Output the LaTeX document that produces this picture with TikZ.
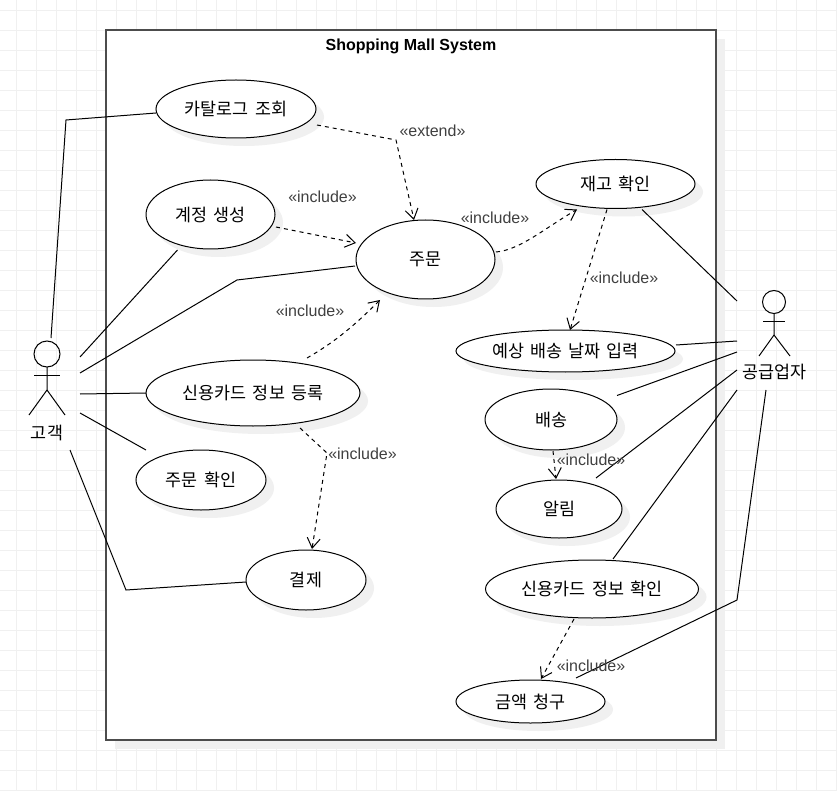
\documentclass[tikz,border=0pt]{standalone}
\usepackage{fontspec}
\setmainfont{Liberation Sans}
\newfontfamily\krfont[WordSpace=1.6]{Noto Sans CJK KR}
\usetikzlibrary{arrows.meta,calc,shadows,shapes.geometric}
\tikzset{
	usecase/.style={ellipse, draw, line width=1pt, fill=white, inner sep=0, outer sep=0,
		general shadow={shadow xshift=8pt, shadow yshift=-8pt, fill=black!6},
		font=\krfont\fontsize{17.4}{20}\selectfont},
	actorname/.style={font=\krfont\fontsize{17.4}{20}\selectfont},
	stereo/.style={text=black!75, font=\fontsize{16}{18}\selectfont},
	assoc/.style={line width=1pt},
	dep/.style={line width=1pt, dash pattern=on 4pt off 4pt, -{Straight Barb[length=10pt,width=13pt]}},
	stick/.style={line width=1pt}
}

\begin{document}
\begin{tikzpicture}[x=1pt, y=-1pt]
	\useasboundingbox (0,0) rectangle (837,791);
	%%%%% GRID %%%%%
	\foreach \gx in {16,36,...,836} \draw[black!6, line width=0.7pt] (\gx,0) -- (\gx,791);
	\foreach \gy in {10,30,...,790} \draw[black!6, line width=0.7pt] (0,\gy) -- (837,\gy);

	%%%%% SYSTEM %%%%%
	\node[draw=black!70, line width=1.4pt, fill=white, inner sep=0, outer sep=0, minimum width=610pt, minimum height=710pt,
		general shadow={shadow xshift=9pt, shadow yshift=-9pt, fill=black!6}] (system) at (411,385) {};
	\node[font=\bfseries\fontsize{16}{18}\selectfont] (title) at (411,46) {Shopping Mall System};

	%%%%% USE CASES %%%%%
	\node[usecase, minimum width=160pt, minimum height=58pt] (catalog) at (236,109) {카탈로그 조회};
	\node[usecase, minimum width=129pt, minimum height=69pt] (account) at (210.5,214.5) {계정 생성};
	\node[usecase, minimum width=139pt, minimum height=79pt] (order) at (425.5,259.5) {주문};
	\node[usecase, minimum width=214pt, minimum height=66pt] (cardreg) at (253,393) {신용카드 정보 등록};
	\node[usecase, minimum width=130pt, minimum height=60pt] (confirm) at (201,480) {주문 확인};
	\node[usecase, minimum width=120pt, minimum height=60pt] (payment) at (306,580) {결제};
	\node[usecase, minimum width=159pt, minimum height=49pt] (stock) at (615.5,184) {재고 확인};
	\node[usecase, minimum width=219pt, minimum height=42pt] (expect) at (565.5,351) {예상 배송 날짜 입력};
	\node[usecase, minimum width=132pt, minimum height=61pt] (ship) at (551,419.5) {배송};
	\node[usecase, minimum width=126pt, minimum height=58pt] (notify) at (559,509) {알림};
	\node[usecase, minimum width=213pt, minimum height=58pt] (cardchk) at (592,589) {신용카드 정보 확인};
	\node[usecase, minimum width=149pt, minimum height=43pt] (billing) at (530.5,701.5) {금액 청구};

	%%%%% ACTORS %%%%%
	\node[circle, draw, line width=1pt, inner sep=0, outer sep=0, minimum size=26pt] (custhead) at (47,354) {};
	\draw[stick] (custhead.south) -- (47,390) -- (29,415);
	\draw[stick] (47,390) -- (65,415);
	\draw[stick] (34,375) -- (60,375);
	\node[actorname] (custname) at (47,432.5) {고객};

	\node[circle, draw, line width=1pt, inner sep=0, outer sep=0, minimum size=23pt] (suphead) at (774,302) {};
	\draw[stick] (suphead.south) -- (774,335) -- (759,356);
	\draw[stick] (774,335) -- (790,356);
	\draw[stick] (763,321) -- (785,321);
	\node[actorname] (supname) at (774.5,372) {공급업자};

	\coordinate (custA) at (51,338);
	\coordinate (custB) at (80,357);
	\coordinate (custC) at (80,373);
	\coordinate (custD) at (80,394);
	\coordinate (custE) at (80,413);
	\coordinate (custF) at (70,450);
	\coordinate (supA) at (737,301);
	\coordinate (supB) at (737,341);
	\coordinate (supC) at (737,352);
	\coordinate (supD) at (737,370);
	\coordinate (supE) at (737,390);
	\coordinate (supF) at (766,390);

	%%%%% ASSOCIATIONS %%%%%
	\draw[assoc] (custA) -- (66,120) -- ($(catalog.west)+(0,4)$);
	\draw[assoc] (custB) -- ($(account.south)+(-33,1)$);
	\draw[assoc] (custC) -- (237,280) -- ($(order.west)+(-1,6.5)$);
	\draw[assoc] (custD) -- (cardreg.west);
	\draw[assoc] (custE) -- ($(confirm.north)+(-55,0)$);
	\draw[assoc] (custF) -- (126,590) -- ($(payment.west)+(0,2)$);
	\draw[assoc] (supA) -- ($(stock.south)+(26.5,1)$);
	\draw[assoc] (supB) -- ($(expect.east)+(1,-6)$);
	\draw[assoc] (supC) -- ($(ship.east)+(0,-24)$);
	\draw[assoc] (supD) -- ($(notify.north)+(37,-2)$);
	\draw[assoc] (supE) -- ($(cardchk.north)+(21,-1)$);
	\draw[assoc] (supF) -- (737,600) -- ($(billing.north)+(45.5,-2)$);

	%%%%% DEPENDENCIES %%%%%
	\draw[dep] ($(catalog.east)+(1,16)$) -- (396,140) -- ($(order.north)+(-11.5,0)$);
	\draw[dep] ($(account.east)+(1,12.5)$) -- ($(order.west)+(0,-16.5)$);
	\draw[dep] ($(cardreg.north)+(54,-2)$) .. controls (335,342) and (355,325) .. ($(order.south)+(-45.5,1)$);
	\draw[dep] ($(order.east)+(1,-7.5)$) .. controls (520,250) and (545,228) .. ($(stock.south)+(-38.5,1)$);
	\draw[dep] ($(stock.south)+(-8.5,1)$) -- ($(expect.north)+(4.5,0)$);
	\draw[dep] ($(ship.south)+(2,1)$) -- ($(notify.north)+(-3,-1)$);
	\draw[dep] ($(cardchk.south)+(-18,1)$) -- ($(billing.north)+(10.5,-1)$);
	\draw[dep] ($(cardreg.south)+(47,2)$) -- (327,453) -- ($(payment.north)+(6,-1)$);

	%%%%% LABELS %%%%%
	\node[stereo] (lblextend) at (432.5,131) {«extend»};
	\node[stereo] (lblaccount) at (322.5,197) {«include»};
	\node[stereo] (lblcard) at (310,311) {«include»};
	\node[stereo] (lblstock) at (495,218) {«include»};
	\node[stereo] (lblexpect) at (624,278) {«include»};
	\node[stereo] (lblpay) at (362.5,454) {«include»};
	\node[stereo] (lblnotify) at (591,460) {«include»};
	\node[stereo] (lblbill) at (591,666) {«include»};
\end{tikzpicture}
\end{document}
